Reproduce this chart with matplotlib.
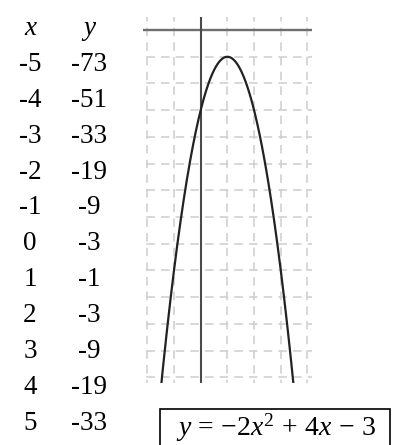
import numpy as np
import matplotlib
matplotlib.use("Agg")
import matplotlib.pyplot as plt
from matplotlib.patches import Rectangle

plt.rcParams['font.family'] = ['Liberation Serif', 'DejaVu Serif']
plt.rcParams['mathtext.fontset'] = 'custom'
plt.rcParams['mathtext.rm'] = 'Liberation Serif'
plt.rcParams['mathtext.it'] = 'Liberation Serif:italic'

# Table data
x_values = [-5, -4, -3, -2, -1, 0, 1, 2, 3, 4, 5]
y_values = [-73, -51, -33, -19, -9, -3, -1, -3, -9, -19, -33]
# Equation coefficients y = a x^2 + b x + c
coeffs = [-2, 4, -3]
equation_label = r'$y\,=\,{-}2x^2\,+\,4x\,-\,3$'
x_grid = [-2, -1, 0, 1, 2, 3, 4]
y_grid = [0, -1, -2, -3, -4, -5, -6, -7, -8, -9, -10, -11, -12, -13]

W, H = 395, 445
fig = plt.figure(figsize=(W / 100, H / 100), dpi=100)

# Axes placement in pixels
L, R, T, B = 143, 311.5, 16.7, 382.7
ax = fig.add_axes([L / W, 1 - B / H, (R - L) / W, (B - T) / H])
ax.set_xlim(-2.16, 4.15)
ax.set_ylim(-13.2, 0.5)
ax.axis('off')

grid_col = '#cdcdcd'
dash = (5.6, 4.0)
for gx in x_grid:
    if gx == 0:
        continue
    ax.plot([gx, gx], [0.5 + 0.15, -14], color=grid_col, lw=1.1,
            dashes=dash, dash_capstyle='butt', zorder=1)
for gy in y_grid:
    if gy == 0:
        continue
    ax.plot([-3.15, 5], [gy, gy], color=grid_col, lw=1.1,
            dashes=dash, dash_capstyle='butt', zorder=1)

# axes lines
ax.axhline(0, color='#6e6e6e', lw=1.7, zorder=2)
ax.axvline(0, color='#4a4a4a', lw=1.5, zorder=2)

xx = np.linspace(-2.5, 4.5, 600)
a, b, c = coeffs
yy = a * xx**2 + b * xx + c
ax.plot(xx, yy, color='#222222', lw=1.6, zorder=3)

# Table
fs = 19.5
col_x, col_y = 30, 89
base0, step = 35, 35.9
fig.text(col_x / W, 1 - base0 / H, 'x', style='italic', fontsize=fs,
         ha='center', va='baseline')
fig.text(col_y / W, 1 - base0 / H, 'y', style='italic', fontsize=fs,
         ha='center', va='baseline')
for i, (xv, yv) in enumerate(zip(x_values, y_values)):
    yb = base0 + step * (i + 1)
    fig.text(col_x / W, 1 - yb / H, str(xv), fontsize=fs, ha='center', va='baseline')
    fig.text(col_y / W, 1 - yb / H, str(yv), fontsize=fs, ha='center', va='baseline')

# Equation box
fig.patches.append(Rectangle((160 / W, 1 - 460 / H), 230 / W, 51 / H,
                             transform=fig.transFigure, fill=False,
                             edgecolor='black', lw=1.2))
fig.text(276 / W, 1 - 436 / H, equation_label, fontsize=20,
         ha='center', va='baseline')

fig.savefig('out.png', dpi=100)
